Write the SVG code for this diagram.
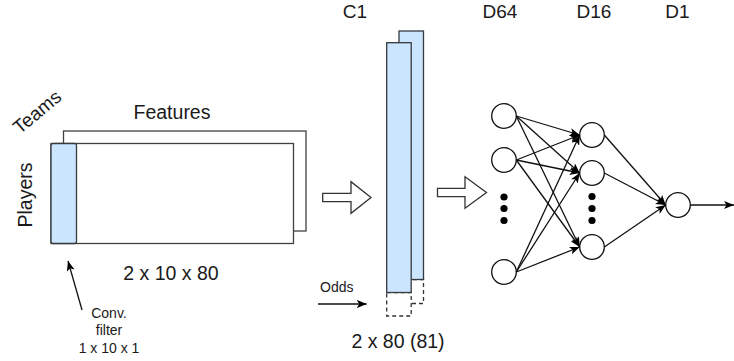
<svg xmlns="http://www.w3.org/2000/svg" width="734" height="361" viewBox="0 0 734 361">
<style>
text{font-family:"Liberation Sans",Arial,sans-serif;fill:#1a1a1a}
.big{font-size:19.5px}
.hd{font-size:19px}
.sm{font-size:14px}
.box{fill:#fff;stroke:#404040;stroke-width:1.3}
.blue{fill:#cce5ff;stroke:#36393d;stroke-width:1.3}
.dash{fill:#fff;stroke:#333;stroke-width:1.3;stroke-dasharray:4 3}
.blk{fill:#fff;stroke:#333;stroke-width:1.3}
.node{fill:#fff;stroke:#111;stroke-width:1.3}
.dot{fill:#000}
.edge{fill:none;stroke:#111;stroke-width:1.3}
</style>
<defs>
<marker id="ah" viewBox="0 0 10 8" refX="10" refY="4" markerWidth="10" markerHeight="8" markerUnits="userSpaceOnUse" orient="auto">
<path d="M0,0 L10,4 L0,8 L2.5,4 Z" fill="#000"/>
</marker>
</defs>

<g id="input">
<rect class="box" x="63.5" y="131" width="242.5" height="100"/>
<rect class="box" x="51" y="143.5" width="242.5" height="100"/>
<rect class="blue" x="51" y="143.5" width="25.5" height="100" rx="2"/>
<text class="hd" x="38" y="113" text-anchor="middle" transform="rotate(-40 38 113)" dominant-baseline="middle">Teams</text>
<text class="big" x="172" y="119" text-anchor="middle">Features</text>
<text class="big" x="32" y="195" text-anchor="middle" transform="rotate(-90 32 195)">Players</text>
<text class="big" x="171" y="280" text-anchor="middle">2 x 10 x 80</text>
</g>

<g id="filter-label">
<text class="sm" x="109" y="318" text-anchor="middle">Conv.</text>
<text class="sm" x="109" y="335" text-anchor="middle">filter</text>
<text class="sm" x="109" y="353" text-anchor="middle">1 x 10 x 1</text>
</g>

<g id="arrow1">
<path class="blk" d="M322.7,193.3 H351 V181.7 L371,197.5 L351,213.3 V201.7 H322.7 Z"/>
</g>

<g id="c1">
<text class="hd" x="355" y="18" text-anchor="middle">C1</text>
<rect class="dash" x="399" y="279.5" width="24.5" height="24"/>
<rect class="blue" x="399" y="31" width="24.5" height="248.5"/>
<rect class="dash" x="386.7" y="292.5" width="24.5" height="23.5"/>
<rect class="blue" x="386.7" y="42.7" width="24.5" height="249.8"/>
<text class="sm" x="320" y="291.5">Odds</text>
<text class="big" x="398" y="348" text-anchor="middle">2 x 80 (81)</text>
</g>

<g id="arrow2">
<path class="blk" d="M437.5,188.3 H465 V176.7 L486.5,192.5 L465,208.3 V196.7 H437.5 Z"/>
</g>

<g id="d64">
<text class="hd" x="500" y="18" text-anchor="middle">D64</text>
<circle class="node" cx="504" cy="116" r="12.3"/>
<circle class="node" cx="504" cy="160" r="12.3"/>
<circle class="dot" cx="504" cy="197" r="3.6"/>
<circle class="dot" cx="504" cy="208.5" r="3.6"/>
<circle class="dot" cx="504" cy="220.5" r="3.6"/>
<circle class="node" cx="504" cy="272" r="12.3"/>
</g>

<g id="d16">
<text class="hd" x="594" y="18" text-anchor="middle">D16</text>
<circle class="node" cx="592" cy="135" r="12.3"/>
<circle class="node" cx="592" cy="173" r="12.3"/>
<circle class="dot" cx="592" cy="196.5" r="3.6"/>
<circle class="dot" cx="592" cy="208.5" r="3.6"/>
<circle class="dot" cx="592" cy="220.5" r="3.6"/>
<circle class="node" cx="592" cy="247" r="12.3"/>
</g>

<g id="d1">
<text class="hd" x="677.5" y="18" text-anchor="middle">D1</text>
<circle class="node" cx="678" cy="205" r="12.3"/>
</g>

<g id="connectors">
<path class="edge" d="M82,310 L68,261" marker-end="url(#ah)"/>
<path class="edge" d="M318,304 L366.7,304" marker-end="url(#ah)"/>
<path class="edge" d="M516.3,116 L579.7,135" marker-end="url(#ah)"/>
<path class="edge" d="M516.3,116 L579.7,173" marker-end="url(#ah)"/>
<path class="edge" d="M516.3,116 L579.7,247" marker-end="url(#ah)"/>
<path class="edge" d="M516.3,160 L579.7,135" marker-end="url(#ah)"/>
<path class="edge" d="M516.3,160 L579.7,173" marker-end="url(#ah)"/>
<path class="edge" d="M516.3,160 L579.7,247" marker-end="url(#ah)"/>
<path class="edge" d="M516.3,272 L579.7,135" marker-end="url(#ah)"/>
<path class="edge" d="M516.3,272 L579.7,173" marker-end="url(#ah)"/>
<path class="edge" d="M516.3,272 L579.7,247" marker-end="url(#ah)"/>
<path class="edge" d="M604.3,135 L665.7,205" marker-end="url(#ah)"/>
<path class="edge" d="M604.3,173 L665.7,205" marker-end="url(#ah)"/>
<path class="edge" d="M604.3,247 L665.7,205" marker-end="url(#ah)"/>
<path class="edge" d="M690.3,205 L734,205" marker-end="url(#ah)"/>
</g>
</svg>
